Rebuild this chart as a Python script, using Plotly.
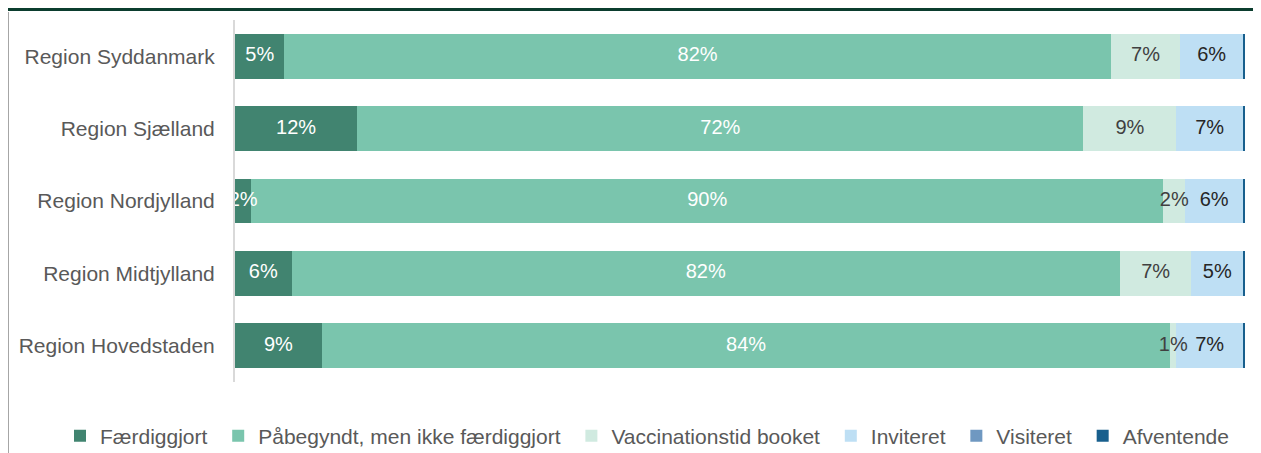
import plotly.graph_objects as go

# --- data (share of each region, in percent) ---
regions = ["Region Syddanmark", "Region Sjælland", "Region Nordjylland",
           "Region Midtjylland", "Region Hovedstaden"]

faerdiggjort = [4.9, 12.1, 1.6, 5.6, 8.6]
paabegyndt = [81.8, 71.9, 90.3, 82.0, 84.0]
booket = [6.9, 9.2, 2.2, 7.1, 0.6]
inviteret = [6.2, 6.6, 5.7, 5.1, 6.6]
visiteret = [0.0, 0.0, 0.0, 0.0, 0.0]
afventende = [0.2, 0.2, 0.2, 0.2, 0.2]

series = [
    ("Færdiggjort", faerdiggjort, "#418470", "white"),
    ("Påbegyndt, men ikke færdiggjort", paabegyndt, "#7AC5AD", "white"),
    ("Vaccinationstid booket", booket, "#D0EAE0", "#404040"),
    ("Inviteret", inviteret, "#BEDFF4", "#262626"),
    ("Visiteret", visiteret, "#6F98C1", "#262626"),
    ("Afventende", afventende, "#185F8D", "#262626"),
]

FONT = "Liberation Sans, Arial, sans-serif"
PAD = "\u00a0"  # a bit of extra room between legend entries

fig = go.Figure()
for i, (name, vals, color, txtcolor) in enumerate(series):
    fig.add_trace(go.Bar(
        y=regions, x=vals, name=name + (PAD if i < len(series) - 1 else ""),
        orientation="h",
        marker=dict(color=color, line=dict(width=0)),
        hoverinfo="name+x",
    ))

# value labels on top of all bars, so small segments' labels stay visible
base = [0.0] * len(regions)
for name, vals, color, txtcolor in series:
    mids = [b + v / 2 for b, v in zip(base, vals)]
    labels = [f"{v:.0f}%" if v >= 0.5 else "" for v in vals]
    fig.add_trace(go.Scatter(
        y=regions, x=mids, text=labels, mode="text", showlegend=False,
        textposition="middle center", cliponaxis=True, hoverinfo="skip",
        textfont=dict(family=FONT, size=20, color=txtcolor),
    ))
    base = [b + v for b, v in zip(base, vals)]

# the page body adds an 8px margin, so the figure is 8px smaller each way
OFF = 8
W, H = 1261 - OFF, 453 - OFF
L, R, T, B = 235 - OFF, 16, 20 - OFF, 71
pw, ph = W - L - R, H - T - B

def px(x):
    return (x - OFF - L) / pw

def py(y):
    return (H - B - (y - OFF)) / ph

fig.update_layout(
    width=W, height=H, barmode="stack", bargap=0.38,
    margin=dict(l=L, r=R, t=T, b=B, autoexpand=False),
    plot_bgcolor="white", paper_bgcolor="white",
    font=dict(family=FONT, size=20, color="#595959"),
    xaxis=dict(range=[0, 100], visible=False, fixedrange=True),
    yaxis=dict(autorange="reversed", showline=True, linecolor="#D9D9D9",
               linewidth=2, ticks="", ticklabelstandoff=14, automargin=False,
               tickfont=dict(size=21, color="#595959"), showgrid=False),
    legend=dict(orientation="h", x=px(60), xanchor="left",
                y=py(436), yanchor="middle",
                font=dict(size=21, color="#595959"), traceorder="normal",
                itemwidth=30),
    showlegend=True,
    shapes=[
        # dark top rule and left frame line of the original slide
        dict(type="line", xref="paper", yref="paper",
             x0=px(0), x1=px(1261), y0=py(9.5), y1=py(9.5),
             line=dict(color="#0B3D2E", width=3)),
        dict(type="line", xref="paper", yref="paper",
             x0=px(8.5), x1=px(8.5), y0=py(12), y1=py(453),
             line=dict(color="#A6A6A6", width=1)),
    ],
)

fig.write_html("out.html")
